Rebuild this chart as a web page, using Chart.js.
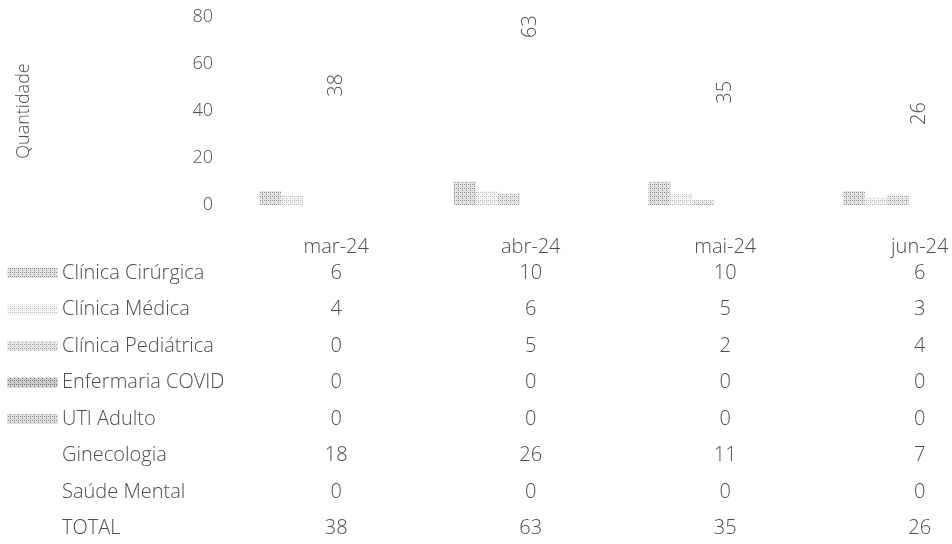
<!DOCTYPE html>
<html>
<head>
<meta charset="utf-8">
<script src="https://cdn.jsdelivr.net/npm/chart.js"></script>
<style>
  html, body { margin: 0; padding: 0; background: #fff; overflow: hidden; }
  #wrap { width: 1017px; height: 544px; }
</style>
</head>
<body>
<div id="wrap"><canvas id="myChart" width="1017" height="544"></canvas></div>
<script>
const meses = ['mar-24', 'abr-24', 'mai-24', 'jun-24'];
const clinicaCirurgica = [6, 10, 10, 6];
const clinicaMedica = [4, 6, 5, 3];
const clinicaPediatrica = [0, 5, 2, 4];
const enfermariaCovid = [0, 0, 0, 0];
const utiAdulto = [0, 0, 0, 0];
const ginecologia = [18, 26, 11, 7];
const saudeMental = [0, 0, 0, 0];
const total = [38, 63, 35, 26];
const yMax = 80;
const yStep = 20;

const FAMILIA = "'Open Sans', sans-serif";
const FONT = "300 20px " + FAMILIA;
const TXT = '#4d4d4d';

// pontilhado cinza parecido com o da impressão
function pontilhado(fundo, ponto) {
	const p = document.createElement('canvas');
	p.width = 4; p.height = 4;
	const g = p.getContext('2d');
	g.fillStyle = fundo; g.fillRect(0, 0, 4, 4);
	g.fillStyle = ponto;
	g.fillRect(0, 0, 1, 1); g.fillRect(2, 2, 1, 1); g.fillRect(2, 0, 1, 1);
	return g.createPattern(p, 'repeat');
}

const ctx = document.getElementById('myChart').getContext('2d');
const vazio = 'rgba(0,0,0,0)';

const tabela = {
	id: 'tabela',
	afterDraw(chart) {
		const c = chart.ctx, x = chart.scales.x;
		const headerY = 247, firstRow = 273, rowH = 36.5;
		c.save();
		c.font = FONT;
		c.textBaseline = 'middle';
		c.fillStyle = TXT;
		c.textAlign = 'center';
		meses.forEach((m, i) => c.fillText(m, x.getPixelForValue(i), headerY));
		chart.data.datasets.forEach((ds, r) => {
			const y = firstRow + r * rowH;
			if (ds.chave) {
				c.fillStyle = ds.backgroundColor;
				c.fillRect(7, y - 5, 51, 10);
			}
			c.fillStyle = TXT;
			c.textAlign = 'left';
			c.fillText(ds.label, 62, y);
			c.textAlign = 'center';
			ds.data.forEach((v, i) => c.fillText(String(v), x.getPixelForValue(i), y));
		});
		// rótulos do total, girados
		const meta = chart.getDatasetMeta(chart.data.datasets.length - 1);
		c.fillStyle = TXT;
		c.textAlign = 'left';
		meta.data.forEach((pt, i) => {
			c.save();
			c.translate(pt.x, pt.y - 19);
			c.rotate(-Math.PI / 2);
			c.fillText(String(total[i]), 0, 0);
			c.restore();
		});
		c.restore();
	}
};

new Chart(ctx, {
	type: 'bar',
	data: {
		labels: meses,
		datasets: [
			{ label: 'Clínica Cirúrgica', data: clinicaCirurgica, backgroundColor: pontilhado('#e4e4e4', '#8a8a8a'), chave: true },
			{ label: 'Clínica Médica', data: clinicaMedica, backgroundColor: pontilhado('#f4f4f4', '#bdbdbd'), chave: true },
			{ label: 'Clínica Pediátrica', data: clinicaPediatrica, backgroundColor: pontilhado('#e8e8e8', '#9a9a9a'), chave: true },
			{ label: 'Enfermaria COVID', data: enfermariaCovid, backgroundColor: pontilhado('#cfcfcf', '#6a6a6a'), chave: true },
			{ label: 'UTI Adulto', data: utiAdulto, backgroundColor: pontilhado('#dedede', '#858585'), chave: true },
			{ label: 'Ginecologia', data: ginecologia, backgroundColor: vazio },
			{ label: 'Saúde Mental', data: saudeMental, backgroundColor: vazio },
			{ label: 'TOTAL', data: total, type: 'line', showLine: false, pointRadius: 0, borderColor: vazio, backgroundColor: vazio }
		]
	},
	options: {
		responsive: false,
		animation: false,
		events: [],
		layout: { padding: { top: 17, bottom: 339, left: 0, right: 0 } },
		datasets: { bar: { categoryPercentage: 0.79, barPercentage: 1.0, borderWidth: 0 } },
		plugins: { legend: { display: false }, tooltip: { enabled: false } },
		scales: {
			x: { display: false, offset: true },
			y: {
				min: 0, max: yMax,
				grid: { display: false, drawTicks: false },
				border: { display: false },
				ticks: { stepSize: yStep, padding: 26, color: TXT, font: { family: FAMILIA, size: 18, weight: 300 } },
				title: { display: true, text: 'Quantidade', color: TXT, padding: { top: 13, bottom: 0 }, font: { family: FAMILIA, size: 18, weight: 300 } },
				afterFit(scale) {
					scale.width = 239;
					scale.paddingTop = 0;
					scale.paddingBottom = 0;
				}
			}
		}
	},
	plugins: [tabela]
});
</script>
</body>
</html>
